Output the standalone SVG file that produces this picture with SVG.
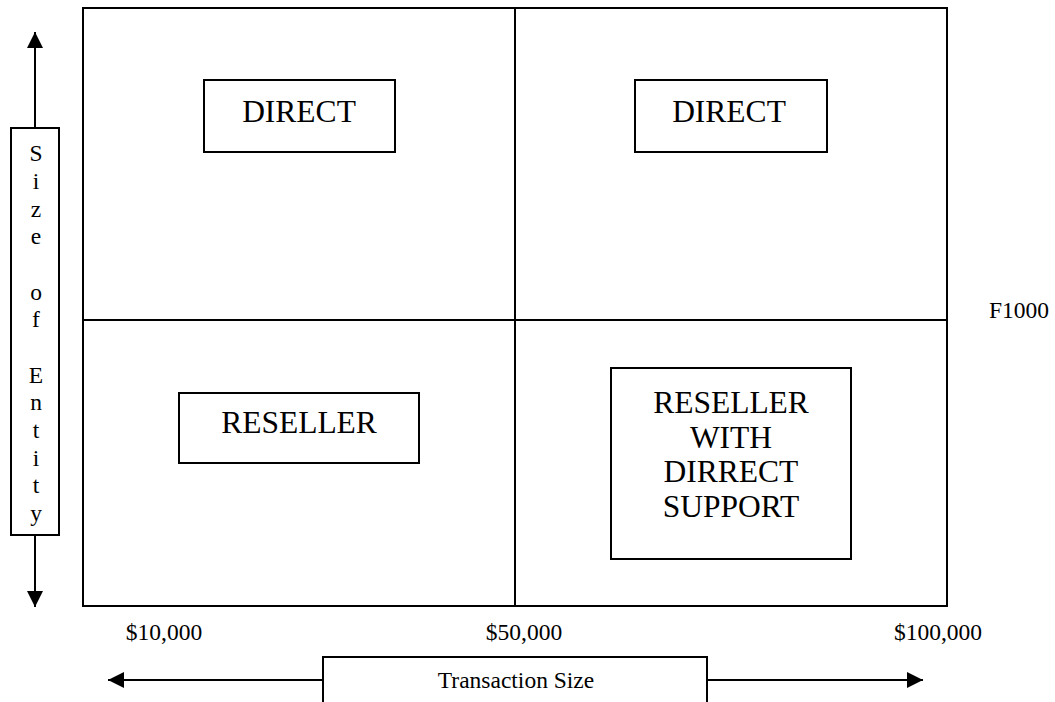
<svg xmlns="http://www.w3.org/2000/svg" width="1055" height="702" viewBox="0 0 1055 702">
<style>
.ln{stroke:#000;stroke-width:2;fill:none}
.bx{stroke:#000;stroke-width:2;fill:#fff}
.big{font-family:"Liberation Serif","Times New Roman",serif;font-size:31.5px;fill:#000;text-anchor:middle}
.sm{font-family:"Liberation Serif","Times New Roman",serif;font-size:23.5px;fill:#000;text-anchor:middle}
.smL{font-family:"Liberation Serif","Times New Roman",serif;font-size:23.5px;fill:#000}
</style>
<defs>
<marker id="ah" viewBox="0 0 16 16" refX="16" refY="8" markerWidth="16" markerHeight="16" markerUnits="userSpaceOnUse" orient="auto">
<path d="M0,0 L16,8 L0,16 Z" fill="#000"/>
</marker>
</defs>
<rect width="1055" height="702" fill="#fff"/>
<g id="grid">
<rect class="ln" x="83" y="8" width="864" height="598"/>
<line class="ln" x1="515" y1="8" x2="515" y2="606"/>
<line class="ln" x1="83" y1="320" x2="947" y2="320"/>
</g>
<g id="connectors">
<line class="ln" x1="35" y1="128" x2="35" y2="32" marker-end="url(#ah)"/>
<line class="ln" x1="35" y1="535" x2="35" y2="607" marker-end="url(#ah)"/>
<line class="ln" x1="323" y1="680" x2="108" y2="680" marker-end="url(#ah)"/>
<line class="ln" x1="707" y1="680" x2="923" y2="680" marker-end="url(#ah)"/>
</g>
<g id="size-of-entity">
<rect class="bx" x="11" y="128" width="48" height="407"/>
<text class="sm" x="36" y="161">S</text>
<text class="sm" x="36" y="189">i</text>
<text class="sm" x="36" y="217">z</text>
<text class="sm" x="36" y="244">e</text>
<text class="sm" x="36" y="300">o</text>
<text class="sm" x="36" y="327">f</text>
<text class="sm" x="36" y="383">E</text>
<text class="sm" x="36" y="410">n</text>
<text class="sm" x="36" y="438">t</text>
<text class="sm" x="36" y="466">i</text>
<text class="sm" x="36" y="493">t</text>
<text class="sm" x="36" y="521">y</text>
</g>
<g id="direct-1">
<rect class="bx" x="204" y="80" width="191" height="72"/>
<text class="big" x="299" y="122">DIRECT</text>
</g>
<g id="direct-2">
<rect class="bx" x="635" y="80" width="192" height="72"/>
<text class="big" x="729" y="122">DIRECT</text>
</g>
<g id="reseller">
<rect class="bx" x="179" y="393" width="240" height="70"/>
<text class="big" x="299" y="433">RESELLER</text>
</g>
<g id="reseller-direct">
<rect class="bx" x="611" y="368" width="240" height="191"/>
<text class="big" x="731" y="413">RESELLER</text>
<text class="big" x="731" y="448">WITH</text>
<text class="big" x="731" y="482">DIRRECT</text>
<text class="big" x="731" y="517">SUPPORT</text>
</g>
<g id="labels">
<text class="smL" x="989" y="318">F1000</text>
<text class="sm" x="164" y="640">$10,000</text>
<text class="sm" x="524" y="640">$50,000</text>
<text class="sm" x="938" y="640">$100,000</text>
</g>
<g id="transaction-size">
<rect class="bx" x="323" y="657" width="384" height="60"/>
<text class="sm" x="516" y="688">Transaction Size</text>
</g>
</svg>
